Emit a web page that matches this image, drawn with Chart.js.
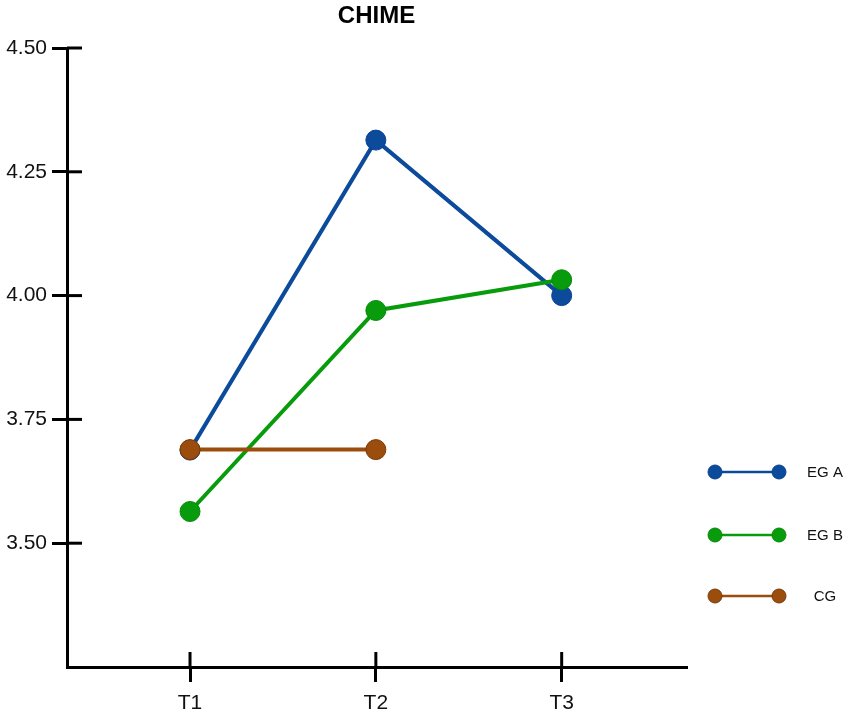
<!DOCTYPE html>
<html>
<head>
<meta charset="utf-8">
<script src="https://cdn.jsdelivr.net/npm/chart.js@4.4.1/dist/chart.umd.min.js"></script>
<style>
html,body{margin:0;padding:0;background:#fff;}
#wrap{width:850px;height:719px;position:relative;}
</style>
</head>
<body>
<div id="wrap"><canvas id="c" width="850" height="719"></canvas></div>
<script>
const title = 'CHIME';
const categories = ['T1', 'T2', 'T3'];
const seriesNames = ['EG A', 'EG B', 'CG'];
const egA = [3.688, 4.314, 4.000];
const egB = [3.564, 3.970, 4.032];
const cg = [3.689, 3.689];
const yTicks = [3.50, 3.75, 4.00, 4.25, 4.50];

const colors = ['#0c4a9b', '#089b0c', '#9b4d0d'];
const borders = ['#0a4190', '#078a0a', '#7a3a08'];

function pts(arr) { return arr.map((v, i) => ({x: i + 1, y: v})); }

const seriesData = [egA, egB, cg];
const datasets = seriesData.map((arr, i) => ({
  label: seriesNames[i],
  data: pts(arr),
  borderColor: colors[i],
  backgroundColor: colors[i],
  pointBackgroundColor: colors[i],
  pointBorderColor: borders[i],
  pointBorderWidth: 1,
  pointRadius: 10,
  pointHoverRadius: 10,
  borderWidth: 4,
  tension: 0,
  order: 2 - i
}));

const FONT = 'Arial, "Liberation Sans", sans-serif';

const decor = {
  id: 'decor',
  afterDraw(chart) {
    const ctx = chart.ctx;
    const ca = chart.chartArea;
    const xs = chart.scales.x, ys = chart.scales.y;
    ctx.save();
    // inner halves of tick marks
    ctx.strokeStyle = '#000';
    ctx.lineWidth = 3;
    ys.ticks.forEach((t, i) => {
      const y = ys.getPixelForTick(i);
      ctx.beginPath(); ctx.moveTo(ca.left, y); ctx.lineTo(ca.left + 15, y); ctx.stroke();
    });
    xs.ticks.forEach((t, i) => {
      const x = xs.getPixelForTick(i);
      ctx.beginPath(); ctx.moveTo(x, ca.bottom); ctx.lineTo(x, ca.bottom - 15); ctx.stroke();
    });
    // title
    ctx.fillStyle = '#000';
    ctx.font = 'bold 24px ' + FONT;
    ctx.textAlign = 'center';
    ctx.textBaseline = 'middle';
    ctx.fillText(title, (ca.left + ca.right) / 2, 16);
    // legend
    const legY = [472, 535, 596];
    chart.data.datasets.forEach((ds, i) => {
      const y = legY[i];
      ctx.strokeStyle = colors[i];
      ctx.lineWidth = 2.5;
      ctx.beginPath(); ctx.moveTo(715, y); ctx.lineTo(779, y); ctx.stroke();
      [715, 779].forEach(x => {
        ctx.beginPath(); ctx.arc(x, y, 7, 0, Math.PI * 2);
        ctx.fillStyle = colors[i]; ctx.fill();
        ctx.lineWidth = 1; ctx.strokeStyle = borders[i]; ctx.stroke();
      });
      ctx.fillStyle = '#111';
      ctx.font = '15px ' + FONT;
      ctx.textAlign = 'center';
      ctx.fillText(ds.label, 825, y + 1);
    });
    ctx.restore();
  }
};

new Chart(document.getElementById('c'), {
  type: 'line',
  data: { datasets },
  options: {
    responsive: false,
    animation: false,
    devicePixelRatio: 1,
    layout: { padding: { top: 48, right: 164, left: 0, bottom: 0 } },
    plugins: { legend: { display: false }, title: { display: false }, tooltip: { enabled: false } },
    scales: {
      x: {
        type: 'linear',
        min: 0.338,
        max: 3.669,
        afterBuildTicks(scale) { scale.ticks = categories.map((c, i) => ({ value: i + 1 })); },
        afterFit(scale) { scale.height = 52; },
        ticks: {
          callback: (v) => categories[Math.round(v) - 1] || '',
          color: '#111',
          font: { size: 21, family: FONT },
          padding: 9,
          maxRotation: 0
        },
        grid: { display: true, drawOnChartArea: false, drawTicks: true, tickLength: 15, color: '#000', lineWidth: 3 },
        border: { display: true, color: '#000', width: 3 }
      },
      y: {
        type: 'linear',
        min: 3.25,
        max: 4.5,
        afterBuildTicks(scale) { scale.ticks = yTicks.map(v => ({ value: v })); },
        afterFit(scale) { scale.width = 67; },
        ticks: {
          callback: (v) => Number(v).toFixed(2),
          color: '#111',
          font: { size: 21, family: FONT },
          padding: 5
        },
        grid: { display: true, drawOnChartArea: false, drawTicks: true, tickLength: 15, color: '#000', lineWidth: 3 },
        border: { display: true, color: '#000', width: 3 }
      }
    }
  },
  plugins: [decor]
});
</script>
</body>
</html>
